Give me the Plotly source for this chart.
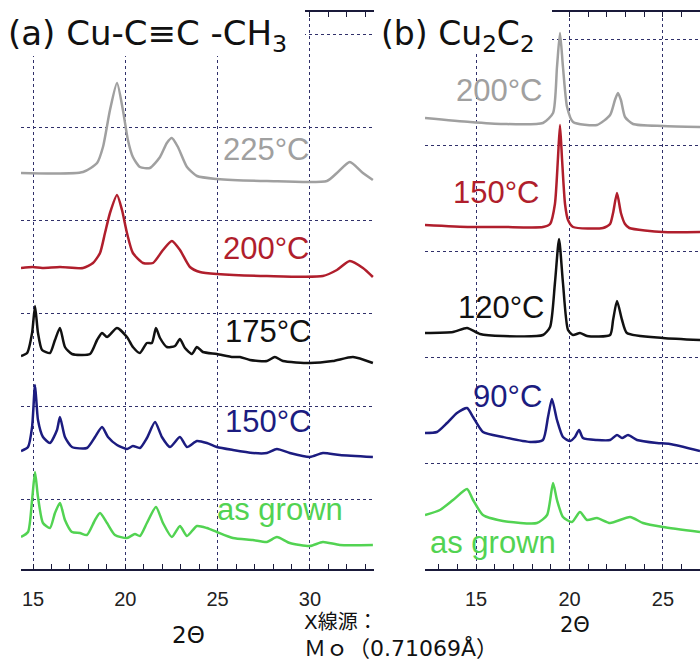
import plotly.graph_objects as go

# ---------------- Panel (a): Cu-C≡C-CH3 (2θ, stacked intensity a.u.) ----------------
a225_tt = [14.35, 17.71, 18.47, 18.79, 19.17, 19.55, 19.87, 20.14, 20.41, 20.79, 21.33, 21.88, 22.25,
           22.52, 22.85, 23.34, 23.88, 24.96, 27.67, 30.92, 31.46, 32.16, 32.87, 33.41]
a225_i = [396, 397, 406, 422, 459, 486, 459, 429, 412, 402, 401, 412, 426,
          431, 422, 402, 393, 390, 388, 388, 396, 407, 396, 389]

a200_tt = [14.35, 15.0, 15.5, 16.46, 17.71, 18.25, 18.63, 18.90, 19.17, 19.55, 19.82, 20.09, 20.41,
           20.96, 21.50, 22.04, 22.52, 22.96, 23.50, 24.04, 24.96, 27.67, 30.70, 31.46, 32.16, 32.87, 33.41]
a200_i = [301, 302, 301, 302, 301, 306, 316, 336, 356, 374, 359, 336, 316,
          306, 306, 319, 328, 319, 302, 297, 295, 293, 293, 299, 308, 301, 292]

a175_tt = [14.35, 14.68, 14.95, 15.11, 15.27, 15.49, 15.92, 16.19, 16.46, 16.73, 17.11, 18.09, 18.47,
           18.74, 19.01, 19.55, 20.09, 20.41, 20.79, 21.17, 21.44, 21.66, 21.88, 22.25, 22.69, 22.96,
           23.23, 23.61, 23.88, 24.20, 24.96, 25.83, 26.21, 26.75, 27.67, 28.10, 28.54, 30.0, 31.24,
           32.33, 33.41]
a175_i = [213, 216, 236, 263, 236, 219, 216, 229, 241, 222, 215, 215, 229,
          236, 232, 241, 232, 222, 216, 226, 226, 241, 231, 222, 223, 230,
          221, 215, 222, 217, 215, 212, 212, 209, 208, 212, 208, 206, 208,
          212, 206]

a150_tt = [14.35, 14.73, 14.95, 15.11, 15.27, 15.54, 15.92, 16.30, 16.46, 16.73, 17.11, 17.92, 18.36,
           18.74, 19.06, 19.55, 20.09, 20.41, 20.79, 21.17, 21.61, 21.98, 22.42, 22.96, 23.34, 23.88,
           24.42, 24.96, 25.83, 26.91, 27.67, 28.21, 28.91, 30.0, 30.70, 31.62, 33.41]
a150_i = [118, 122, 142, 184, 149, 132, 126, 139, 152, 132, 122, 121, 132,
          142, 132, 124, 120, 123, 121, 131, 147, 132, 122, 132, 122, 128,
          126, 122, 119, 116, 116, 120, 116, 112, 116, 114, 112]

aasg_tt = [14.35, 14.73, 14.95, 15.11, 15.27, 15.54, 15.92, 16.19, 16.46, 16.73, 17.11, 17.54, 17.92,
           18.36, 18.63, 19.01, 19.44, 20.09, 20.52, 20.79, 21.17, 21.66, 22.04, 22.52, 22.96, 23.34,
           23.88, 24.42, 24.96, 25.83, 26.91, 27.67, 28.21, 28.91, 30.0, 30.70, 31.62, 33.41]
aasg_i = [32, 37, 69, 97, 72, 46, 41, 56, 66, 49, 37, 36, 34,
          49, 56, 46, 34, 31, 35, 33, 46, 62, 46, 32, 43, 33,
          43, 41, 37, 31, 29, 27, 32, 26, 23, 27, 24, 24]

# ---------------- Panel (b): Cu2C2 ----------------
b200_tt = [12.27, 14.68, 16.44, 18.58, 19.12, 19.33, 19.49, 19.65, 19.87, 20.19, 21.47, 22.17, 22.43,
           22.59, 22.75, 22.97, 23.40, 25.0, 26.98]
b200_i = [451, 447, 445, 446, 456, 502, 536, 502, 462, 447, 444, 454, 469,
          476, 469, 452, 445, 443, 442]

b150_tt = [12.27, 14.68, 16.44, 18.58, 18.96, 19.22, 19.38, 19.49, 19.60, 19.76, 19.92, 20.19, 21.79,
           22.17, 22.33, 22.54, 22.75, 22.97, 23.20, 25.0, 26.98]
b150_i = [344, 342, 342, 342, 345, 365, 410, 444, 410, 365, 349, 342, 341,
          345, 356, 376, 356, 345, 341, 337, 337]

b120_tt = [12.27, 13.77, 14.52, 15.21, 16.44, 18.58, 18.96, 19.22, 19.44, 19.65, 19.92, 20.19, 20.56,
           20.94, 22.17, 22.33, 22.54, 22.81, 23.07, 25.0, 26.98]
b120_i = [236, 237, 241, 235, 233, 234, 242, 286, 330, 286, 239, 234, 236,
          233, 234, 249, 268, 249, 236, 231, 229]

b90_tt = [12.27, 12.91, 13.45, 13.98, 14.52, 14.84, 15.37, 16.44, 17.89, 18.58, 18.85, 19.06, 19.33,
          19.65, 20.03, 20.29, 20.51, 20.72, 21.47, 22.17, 22.54, 22.81, 23.13, 23.61, 24.68, 25.37, 26.98]
b90_i = [136, 137, 146, 156, 161, 152, 137, 132, 127, 129, 152, 170, 149,
         132, 128, 132, 139, 131, 129, 129, 134, 131, 134, 129, 126, 125, 118]

basg_tt = [12.27, 13.07, 13.77, 14.52, 14.84, 15.37, 16.44, 18.26, 18.80, 19.12, 19.33, 19.65, 20.13,
           20.56, 20.94, 21.47, 22.17, 23.24, 23.93, 25.0, 26.98]
basg_i = [54, 59, 69, 80, 69, 54, 48, 46, 54, 86, 69, 52, 47,
          57, 49, 51, 46, 52, 46, 42, 37]

GRAY, RED, BLACK, BLUE, GREEN = "#a0a0a0", "#b01e2c", "#111111", "#1c1c80", "#52d352"

series = [
    ("x", "y", a225_tt, a225_i, GRAY),
    ("x", "y", a200_tt, a200_i, RED),
    ("x", "y", a175_tt, a175_i, BLACK),
    ("x", "y", a150_tt, a150_i, BLUE),
    ("x", "y", aasg_tt, aasg_i, GREEN),
    ("x2", "y2", b200_tt, b200_i, GRAY),
    ("x2", "y2", b150_tt, b150_i, RED),
    ("x2", "y2", b120_tt, b120_i, BLACK),
    ("x2", "y2", b90_tt, b90_i, BLUE),
    ("x2", "y2", basg_tt, basg_i, GREEN),
]

fig = go.Figure()
for xa, ya, tt, ii, col in series:
    fig.add_trace(go.Scatter(x=tt, y=ii, xaxis=xa, yaxis=ya, mode="lines",
                             line=dict(color=col, width=2.5, shape="spline", smoothing=0.6),
                             showlegend=False, hoverinfo="skip"))

GRID = "#30306a"
AX = "#1a1a3a"
tickfont = dict(family="Liberation Sans, Arial", size=20, color="#222222")

def xaxis_cfg(domain, rng, anchor):
    return dict(domain=domain, range=rng, anchor=anchor, showline=True, linecolor=AX, linewidth=1.5,
                mirror="ticks", ticks="inside", ticklen=5, tickcolor=AX, tickwidth=1,
                tickmode="linear", tick0=15, dtick=5,
                minor=dict(dtick=1, ticks="inside", ticklen=5, tickcolor=AX, showgrid=False),
                showgrid=True, gridcolor=GRID, gridwidth=1, griddash="3px,3px",
                zeroline=False, tickfont=tickfont, ticklabelstandoff=11)

def yaxis_cfg(domain, rng, t0, dt, anchor):
    return dict(domain=domain, range=rng, anchor=anchor, showline=False, ticks="",
                showticklabels=False, tickmode="linear", tick0=t0, dtick=dt,
                showgrid=True, gridcolor=GRID, gridwidth=1, griddash="3px,3px", zeroline=False)

ydom = [93 / 662, 650 / 662]
fig.update_layout(
    width=700, height=662, margin=dict(l=0, r=0, t=0, b=0),
    plot_bgcolor="white", paper_bgcolor="white",
    xaxis=xaxis_cfg([21 / 700, 374 / 700], [14.35, 33.47], "y"),
    xaxis2=xaxis_cfg([425 / 700, 1.0], [12.27, 26.98], "y2"),
    yaxis=yaxis_cfg(ydom, [0, 557], 70, 93, "x"),
    yaxis2=yaxis_cfg(ydom, [0, 557], 106, 106, "x2"),
)

# white boxes behind the panel titles
fig.add_shape(type="rect", xref="paper", yref="paper", x0=0, x1=305 / 700, y0=1 - 56 / 662, y1=1,
              fillcolor="white", line=dict(width=0), layer="above")
fig.add_shape(type="rect", xref="paper", yref="paper", x0=378 / 700, x1=552 / 700, y0=1 - 52 / 662, y1=1,
              fillcolor="white", line=dict(width=0), layer="above")

lab_font = "Liberation Sans, Arial"
labels = [
    ("x", "y", 27.67, 419, "225°C", GRAY),
    ("x", "y", 27.67, 320, "200°C", RED),
    ("x", "y", 27.78, 238, "175°C", BLACK),
    ("x", "y", 27.78, 148, "150°C", BLUE),
    ("x", "y", 28.37, 60, "as grown", GREEN),
    ("x2", "y2", 16.28, 478, "200°C", GRAY),
    ("x2", "y2", 16.12, 376, "150°C", RED),
    ("x2", "y2", 16.34, 262, "120°C", BLACK),
    ("x2", "y2", 16.71, 173, "90°C", BLUE),
    ("x2", "y2", 15.91, 27, "as grown", GREEN),
]
for xr, yr, x, y, t, c in labels:
    fig.add_annotation(xref=xr, yref=yr, x=x, y=y, text=t, showarrow=False,
                       xanchor="center", yanchor="middle",
                       font=dict(family=lab_font, size=31, color=c))

tfont = "DejaVu Sans, Noto Sans CJK JP"
fig.add_annotation(xref="paper", yref="paper", x=6 / 700, y=1 - 36 / 662, xanchor="left", yanchor="middle",
                   text="(a) Cu-C≡C -CH<sub>3</sub>", showarrow=False,
                   font=dict(family=tfont, size=34, color="#111111"))
fig.add_annotation(xref="paper", yref="paper", x=379 / 700, y=1 - 36 / 662, xanchor="left", yanchor="middle",
                   text="(b) Cu<sub>2</sub>C<sub>2</sub>", showarrow=False,
                   font=dict(family=tfont, size=33, color="#111111"))

cjk = "DejaVu Sans, Noto Sans CJK JP"
fig.add_annotation(xref="paper", yref="paper", x=188 / 700, y=1 - 635 / 662, xanchor="center", yanchor="middle",
                   text="2Θ", showarrow=False, font=dict(family=cjk, size=23, color="#111111"))
fig.add_annotation(xref="paper", yref="paper", x=575 / 700, y=1 - 625 / 662, xanchor="center", yanchor="middle",
                   text="2Θ", showarrow=False, font=dict(family=cjk, size=21, color="#111111"))
fig.add_annotation(xref="paper", yref="paper", x=303 / 700, y=1 - 622 / 662, xanchor="left", yanchor="middle",
                   text="X線源：", showarrow=False, borderpad=0,
                   font=dict(family=cjk, size=20, color="#111111"))
fig.add_annotation(xref="paper", yref="paper", x=303 / 700, y=0, xanchor="left", yanchor="bottom",
                   text="Ｍｏ（0.71069Å）", showarrow=False, borderpad=0,
                   font=dict(family=cjk, size=22, color="#111111"))

fig.write_html("out.html")
